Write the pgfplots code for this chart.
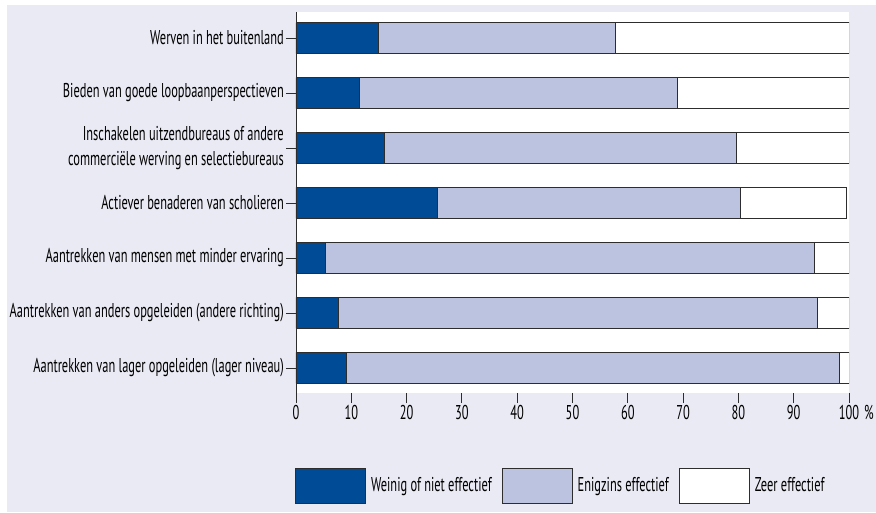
\documentclass[border=0pt]{standalone}
\usepackage{fontspec}
\setmainfont[FakeStretch=0.62]{PT Sans}
\usepackage{pgfplots}
\pgfplotsset{compat=1.18}
\definecolor{bg}{RGB}{234,234,244}
\definecolor{dblue}{RGB}{0,75,150}
\definecolor{lblue}{RGB}{188,195,224}
\definecolor{edge}{RGB}{45,45,45}
\newcommand{\lblfont}{\fontsize{20}{25}\selectfont}
\begin{document}
\begin{tikzpicture}
\useasboundingbox (0,0) rectangle (876pt,512pt);
\fill[bg] (7pt,0) rectangle (876pt,507pt);
\begin{axis}[
  at={(296pt,119pt)}, anchor=south west,
  width=553pt, height=381pt, scale only axis,
  xbar stacked, bar width=31pt,
  xmin=0, xmax=100, ymin=-0.473, ymax=6.455, y dir=reverse,
  axis background/.style={fill=white},
  axis lines*=left,
  axis line style={-},
  x axis line style={draw=none},
  y axis line style={draw=edge, line width=0.9pt},
  tick align=outside, major tick length=10pt,
  tick style={draw=edge, line width=0.9pt},
  xtick={0,10,...,100},
  xticklabels={0,10,20,30,40,50,60,70,80,90,{100\rlap{\hspace{5pt}\%}}},
  ytick={0,...,6},
  yticklabels={
    Werven in het buitenland,
    Bieden van goede loopbaanperspectieven,
    {Inschakelen uitzendbureaus of andere\\commerciële werving en selectiebureaus},
    Actiever benaderen van scholieren,
    Aantrekken van mensen met minder ervaring,
    Aantrekken van anders opgeleiden (andere richting),
    Aantrekken van lager opgeleiden (lager niveau)},
  yticklabel style={align=right, font=\lblfont, inner sep=2pt},
  xticklabel style={font=\lblfont, inner sep=2pt},
  legend columns=3,
  legend style={at={(0,0)}, anchor=west, xshift=-1pt, yshift=-92.5pt,
    draw=none, fill=none, inner sep=0pt, font=\lblfont,
    nodes={inner sep=0pt, anchor=west},
    /tikz/every odd column/.append style={column sep=5pt},
    /tikz/every even column/.append style={column sep=10pt}},
  legend image code/.code={\draw[#1, draw=edge, line width=0.9pt] (0pt,-17.5pt) rectangle (70pt,17.5pt);},
]
\addplot[fill=dblue, draw=edge, line width=0.9pt] coordinates {(15,0) (11.5,1) (16,2) (25.6,3) (5.4,4) (7.6,5) (9.1,6)};
\addplot[fill=lblue, draw=edge, line width=0.9pt] coordinates {(42.8,0) (57.4,1) (63.7,2) (54.8,3) (88.3,4) (86.7,5) (89.1,6)};
\addplot[fill=white, draw=edge, line width=0.9pt] coordinates {(42.2,0) (31.1,1) (20.3,2) (19.1,3) (6.3,4) (5.7,5) (1.8,6)};
\legend{Weinig of niet effectief, Enigzins effectief, Zeer effectief}
\end{axis}
\end{tikzpicture}
\end{document}
